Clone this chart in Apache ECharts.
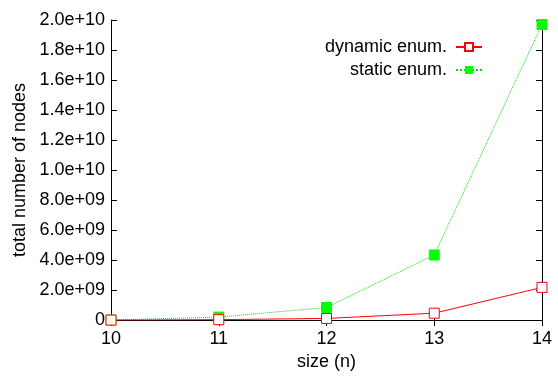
<!DOCTYPE html>
<html>
<head>
<meta charset="utf-8">
<script src="https://cdn.jsdelivr.net/npm/echarts@6/dist/echarts.min.js"></script>
<style>
  html, body { margin: 0; padding: 0; background: #fff; }
  #chart { width: 558px; height: 376px; }
</style>
</head>
<body>
<div id="chart"></div>
<script>
const sizes = [10, 11, 12, 13, 14]
const dynamicNodes = [1e6, 3e7, 1.1e8, 4.6e8, 2.18e9]
const staticNodes = [5e6, 2.0e8, 8.4e8, 4.34e9, 1.97e10]
const yTickLabels = ['0', '2.0e+09', '4.0e+09', '6.0e+09', '8.0e+09', '1.0e+10', '1.2e+10', '1.4e+10', '1.6e+10', '1.8e+10', '2.0e+10']

const font = 'Liberation Sans, Arial, sans-serif'
const chart = echarts.init(document.getElementById('chart'))

const pairs = vals => sizes.map((s, i) => [s, vals[i]])

const option = {
  backgroundColor: '#fff',
  animation: false,
  textStyle: { fontFamily: font },
  grid: { left: 111, right: 16, top: 20, bottom: 53 },
  legend: {
    orient: 'vertical',
    right: 70,
    top: 33,
    align: 'right',
    itemWidth: 26,
    itemHeight: 10,
    itemGap: 5,
    textStyle: { fontFamily: font, fontSize: 18, color: '#000', padding: [0, 4, 0, 0] },
    data: ['dynamic enum.', 'static enum.']
  },
  xAxis: [
    {
      type: 'value',
      min: 10,
      max: 14,
      interval: 1,
      name: 'size (n)',
      nameLocation: 'middle',
      nameGap: 31,
      nameTextStyle: { fontFamily: font, fontSize: 18, color: '#000' },
      axisLine: { lineStyle: { color: '#000', width: 1 } },
      axisTick: { inside: true, length: 6, lineStyle: { color: '#000' } },
      axisLabel: { margin: 10, fontFamily: font, fontSize: 18, color: '#000' },
      splitLine: { show: false }
    },
    {
      type: 'value',
      position: 'top',
      min: 10,
      max: 14,
      interval: 1,
      axisLine: { lineStyle: { color: '#000', width: 1 } },
      axisTick: { inside: true, length: 6, lineStyle: { color: '#000' } },
      axisLabel: { show: false },
      splitLine: { show: false }
    }
  ],
  yAxis: [
    {
      type: 'value',
      min: 0,
      max: 2e10,
      interval: 2e9,
      name: 'total number of nodes',
      nameLocation: 'middle',
      nameGap: 80,
      nameTextStyle: { fontFamily: font, fontSize: 18, color: '#000' },
      axisLine: { show: true, lineStyle: { color: '#000', width: 1 } },
      axisTick: { show: true, inside: true, length: 6, lineStyle: { color: '#000' } },
      axisLabel: {
        margin: 6,
        fontFamily: font,
        fontSize: 18,
        color: '#000',
        formatter: v => yTickLabels[Math.round(v / 2e9)]
      },
      splitLine: { show: false }
    },
    {
      type: 'value',
      position: 'right',
      min: 0,
      max: 2e10,
      interval: 2e9,
      axisLine: { show: true, lineStyle: { color: '#000', width: 1 } },
      axisTick: { show: true, inside: true, length: 6, lineStyle: { color: '#000' } },
      axisLabel: { show: false },
      splitLine: { show: false }
    }
  ],
  series: [
    {
      name: 'dynamic enum.',
      type: 'line',
      data: pairs(dynamicNodes),
      symbol: 'rect',
      symbolSize: 10,
      z: 3,
      lineStyle: { color: '#ff0000', width: 1 },
      itemStyle: { color: '#fff', borderColor: '#ff0000', borderWidth: 1 }
    },
    {
      name: 'static enum.',
      type: 'line',
      data: pairs(staticNodes),
      symbol: 'rect',
      symbolSize: 10,
      z: 2,
      lineStyle: { color: '#00e000', width: 1, type: 'dotted' },
      itemStyle: { color: '#00ff00', borderColor: '#00ff00' }
    }
  ]
}

chart.setOption(option)
</script>
</body>
</html>
